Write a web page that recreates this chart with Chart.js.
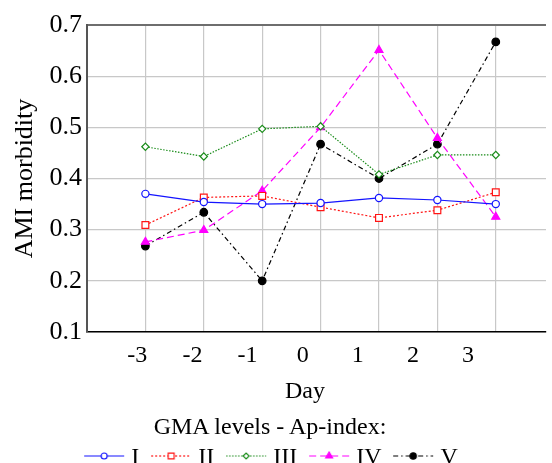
<!DOCTYPE html>
<html>
<head>
<meta charset="utf-8">
<script src="https://cdn.jsdelivr.net/npm/chart.js@4.4.1/dist/chart.umd.min.js"></script>
<style>
  html, body { margin: 0; padding: 0; background: #fff; overflow: hidden; }
  #wrap { position: relative; width: 552px; height: 463px; overflow: hidden;
          font-family: 'Liberation Serif', 'Times New Roman', serif; color: #000; }
  #chart { position: absolute; left: 0; top: 0; }
  .txt { position: absolute; line-height: 1; font-size: 24px; white-space: nowrap; transform: translateX(-50%); }
  #xtitle { left: 305px; top: 378px; }
  #legendTitle { left: 270px; top: 414px; }
  #legend { left: 271px; top: 444px; display: flex; align-items: center; }
  .item { display: flex; align-items: center; margin: 0 6px; }
  .item canvas { margin-right: 7px; }
</style>
</head>
<body>
<div id="wrap">
  <canvas id="chart" width="552" height="463"></canvas>
  <div class="txt" id="xtitle">Day</div>
  <div class="txt" id="legendTitle">GMA levels - Ap-index:</div>
  <div class="txt" id="legend"></div>
</div>
<script>
// data
const days = [-3, -2, -1, 0, 1, 2, 3]
const yTicks = [0.1, 0.2, 0.3, 0.4, 0.5, 0.6, 0.7]
const levelNames = ['I', 'II', 'III', 'IV', 'V']
const levelI = [0.370, 0.354, 0.350, 0.352, 0.362, 0.358, 0.350]
const levelII = [0.309, 0.363, 0.366, 0.344, 0.323, 0.338, 0.373]
const levelIII = [0.462, 0.443, 0.497, 0.502, 0.408, 0.446, 0.446]
const levelIV = [0.276, 0.299, 0.376, 0.500, 0.651, 0.479, 0.325]
const levelV = [0.268, 0.334, 0.200, 0.467, 0.400, 0.467, 0.667]

const serif = 'Liberation Serif'

// line/marker look of each level
const looks = [
  { color: '#1414ff', dash: [], point: 'circle', radius: 3.6, fill: '#fff' },
  { color: '#ff1414', dash: [2, 2], point: 'rect', radius: 4.8, fill: '#fff' },
  { color: '#1a8c1a', dash: [1.5, 1.5], point: 'rectRot', radius: 3.6, fill: '#fff' },
  { color: '#ff00ff', dash: [7, 4], point: 'triangle', radius: 4.6, fill: '#ff00ff' },
  { color: '#000000', dash: [5, 3, 1.5, 3], point: 'circle', radius: 3.8, fill: '#000' }
]

const values = [levelI, levelII, levelIII, levelIV, levelV]

const datasets = values.map((vals, i) => {
  const look = looks[i]
  return {
    label: levelNames[i],
    data: days.map((d, j) => ({ x: d, y: vals[j] })),
    borderColor: look.color,
    borderWidth: 1.2,
    borderDash: look.dash,
    tension: 0,
    fill: false,
    pointStyle: look.point,
    pointRadius: look.radius,
    pointBackgroundColor: look.fill,
    pointBorderColor: look.color,
    pointBorderWidth: 1.2,
    xAxisID: 'x',
    yAxisID: 'y'
  }
})

const isTop = v => Math.abs(v - yTicks[yTicks.length - 1]) < 1e-6

new Chart(document.getElementById('chart'), {
  type: 'line',
  data: { datasets },
  options: {
    responsive: false,
    animation: false,
    layout: { padding: { top: 25, bottom: 91, left: 0, right: 0 } },
    plugins: { legend: { display: false }, tooltip: { enabled: false } },
    scales: {
      x: {
        type: 'linear',
        position: 'bottom',
        min: -4,
        max: 3.86,
        weight: 0,
        afterBuildTicks: s => { s.ticks = days.map(v => ({ value: v })) },
        afterFit: s => { s.height = 0 },
        ticks: { display: false },
        grid: { color: '#c8c8c8', lineWidth: 1.2, drawTicks: false },
        border: { color: '#000', width: 1.5 }
      },
      // tick labels of the day axis sit on a slightly narrower spacing than the grid
      xl: {
        type: 'linear',
        position: 'bottom',
        min: -3.913,
        max: 4.415,
        weight: 1,
        afterBuildTicks: s => { s.ticks = days.map(v => ({ value: v })) },
        afterFit: s => { s.height = 40 },
        grid: { display: false, drawTicks: false },
        border: { display: false },
        ticks: {
          padding: 9,
          color: '#000',
          font: { family: serif, size: 24 },
          maxRotation: 0,
          callback: v => String(v)
        }
      },
      y: {
        min: 0.1,
        max: 0.7,
        afterBuildTicks: s => { s.ticks = yTicks.map(v => ({ value: v })) },
        afterFit: s => { s.width = 87 },
        grid: {
          drawTicks: false,
          color: c => (c.tick && isTop(c.tick.value)) ? '#6e6e6e' : '#c8c8c8',
          lineWidth: c => (c.tick && isTop(c.tick.value)) ? 2 : 1.2
        },
        border: { color: '#555', width: 2 },
        ticks: {
          padding: 5,
          color: '#000',
          font: { family: serif, size: 26 },
          callback: v => v.toFixed(1)
        },
        title: {
          display: true,
          text: 'AMI morbidity',
          color: '#000',
          font: { family: serif, size: 26 },
          padding: { top: 10, bottom: 0 }
        }
      }
    }
  }
})

// legend: a small sample of each line with its marker, then the name
const legend = document.getElementById('legend')
levelNames.forEach((name, i) => {
  const look = looks[i]
  const item = document.createElement('div')
  item.className = 'item'
  const c = document.createElement('canvas')
  c.width = 40
  c.height = 14
  const ctx = c.getContext('2d')
  ctx.strokeStyle = look.color
  ctx.lineWidth = 1.2
  ctx.setLineDash(look.dash)
  ctx.beginPath()
  ctx.moveTo(0, 7)
  ctx.lineTo(40, 7)
  ctx.stroke()
  ctx.setLineDash([])
  ctx.fillStyle = look.fill
  Chart.helpers.drawPoint(ctx, { pointStyle: look.point, radius: look.radius - 0.6, rotation: 0, borderWidth: 1.2 }, 20, 7)
  const label = document.createElement('span')
  label.textContent = name
  item.appendChild(c)
  item.appendChild(label)
  legend.appendChild(item)
})
</script>
</body>
</html>
